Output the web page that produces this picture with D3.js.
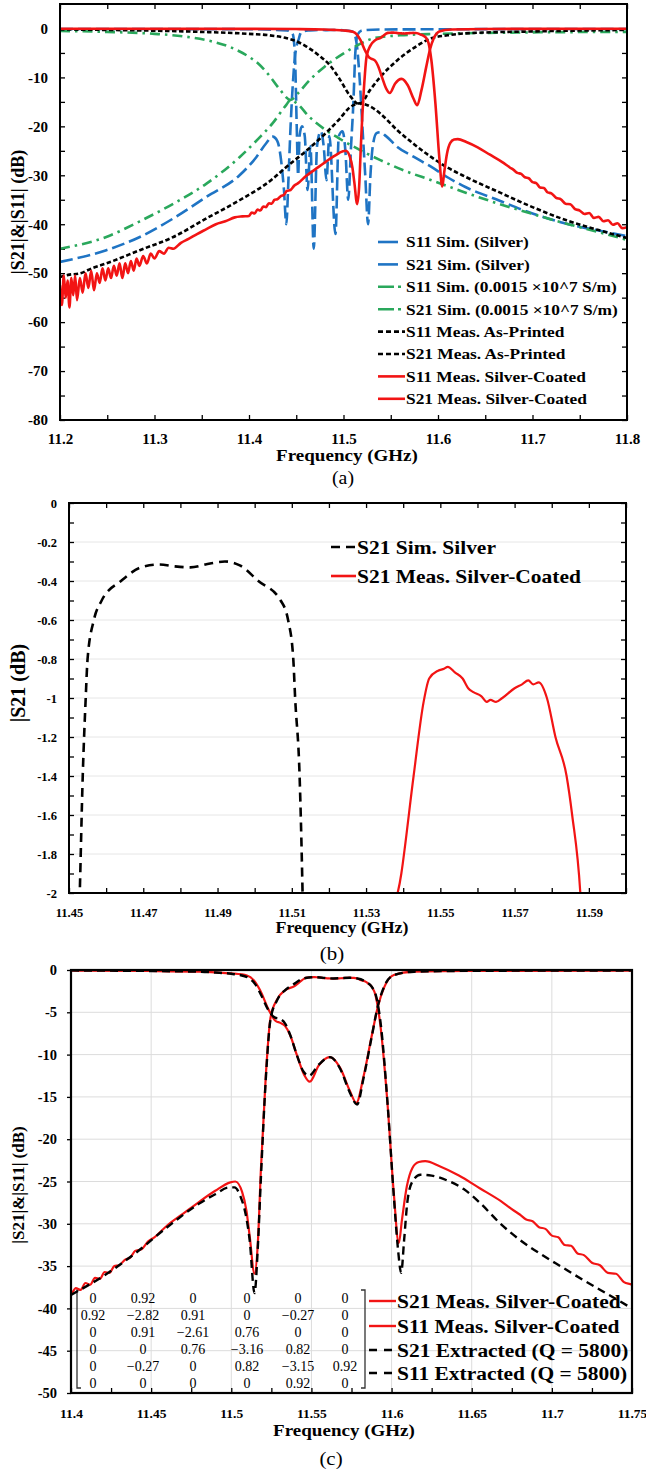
<!DOCTYPE html>
<html>
<head>
<meta charset="utf-8">
<script src="https://cdn.jsdelivr.net/npm/d3@7"></script>
<style>
body { margin: 0; background: #fff; }
svg text { font-family: "Liberation Serif", "Times New Roman", serif; fill: #000; }
</style>
</head>
<body>
<script>
// ---------- data (GHz, dB) ----------
// panel (a): simulated, silver
var simSilverS11 = [[11.2,-0.1],[11.4,-0.15],[11.44,-0.4],[11.446,-1],[11.4485,-5],[11.4505,-20],[11.452,-30],
  [11.4535,-22],[11.456,-20],[11.459,-22],[11.462,-33],[11.465,-24],[11.4685,-45],[11.472,-24],[11.476,-21],
  [11.479,-24],[11.482,-31],[11.485,-22],[11.4915,-42],[11.495,-22],[11.499,-21],[11.502,-25],[11.505,-35],
  [11.508,-24],[11.5105,-15],[11.5125,-5],[11.515,-1.2],[11.52,-0.4],[11.54,-0.2],[11.8,-0.1]];
var simSilverS21 = [[11.2,-47.7],[11.249,-45.3],[11.2845,-42.6],[11.32,-38.8],[11.355,-34.4],[11.39,-30],
  [11.4077,-26.3],[11.418,-23.5],[11.425,-22.1],[11.43,-23],[11.434,-27],[11.437,-33],[11.4395,-40],[11.4415,-32],
  [11.444,-20],[11.4465,-11],[11.4485,-6],[11.4505,-3.5],[11.4529,-2],[11.4537,-1.4],[11.4545,-1.0],[11.455,-0.8],
  [11.4567,-0.6],[11.4588,-0.5],[11.464,-0.4],[11.4694,-0.33],[11.4743,-0.315],[11.4785,-0.325],[11.4827,-0.33],
  [11.488,-0.31],[11.492,-0.3],[11.496,-0.32],[11.501,-0.4],[11.507,-0.5],[11.509,-0.6],[11.5104,-0.8],
  [11.5109,-1.0],[11.5121,-1.4],[11.5129,-2],[11.5145,-4],[11.517,-10],[11.52,-20],[11.523,-30],[11.526,-40],
  [11.5285,-30],[11.531,-24],[11.535,-21.4],[11.539,-21.2],[11.545,-22],[11.557,-24.2],[11.575,-26.3],
  [11.593,-28.3],[11.61,-30.4],[11.629,-32.4],[11.664,-35.1],[11.7,-37.8],[11.736,-39.9],[11.77,-41.3],[11.8,-42.4]];
// panel (a): simulated, 0.0015e7 S/m
var simLossyS11 = [[11.2,-0.5],[11.25,-0.7],[11.3,-1.1],[11.33,-1.6],[11.36,-2.6],[11.38,-3.8],[11.4,-5.8],
  [11.41,-7.2],[11.4218,-9.7],[11.432,-12.3],[11.444,-14.6],[11.452,-13.2],[11.464,-10.6],[11.48,-7.8],
  [11.4993,-5.2],[11.515,-3.4],[11.532,-2.0],[11.56,-1.4],[11.6,-1.1],[11.7,-0.8],[11.8,-0.7]];
var simLossyS21 = [[11.2,-45],[11.249,-42.6],[11.2845,-39.4],[11.32,-35.8],[11.355,-31.7],[11.39,-26.3],
  [11.41,-22.5],[11.4253,-19.3],[11.4395,-15.6],[11.444,-14.6],[11.45,-15.2],[11.464,-18.1],[11.48,-20.6],
  [11.4993,-22.9],[11.52,-25.1],[11.539,-26.9],[11.565,-29.1],[11.593,-31],[11.63,-33.6],[11.664,-35.8],
  [11.7,-37.9],[11.736,-39.9],[11.77,-41.6],[11.8,-43.2]];
// panel (a): measured, as printed
var printedS11 = [[11.2,-0.2],[11.3,-0.45],[11.35,-0.7],[11.4,-1.1],[11.4218,-1.4],[11.44,-2],[11.45,-2.6],
  [11.46,-3.6],[11.4746,-5.6],[11.486,-7.6],[11.4958,-10.3],[11.5063,-13.6],[11.517,-15.5],[11.528,-12.6],
  [11.539,-9.9],[11.557,-6.5],[11.575,-3.9],[11.593,-2.0],[11.61,-1.4],[11.6286,-1.0],[11.7,-0.6],[11.8,-0.3]];
var printedS21 = [[11.2,-50.8],[11.21,-50.3],[11.22,-50.1],[11.235,-48.9],[11.249,-48],[11.2845,-45.3],
  [11.32,-42.6],[11.355,-38.8],[11.39,-35.1],[11.4253,-30.7],[11.4395,-28.3],[11.4606,-25],[11.4746,-22.6],
  [11.4958,-18.5],[11.5063,-16.2],[11.517,-15.3],[11.528,-15.9],[11.539,-17.4],[11.557,-20.8],[11.575,-23.7],
  [11.593,-26.3],[11.61,-28.4],[11.629,-30.3],[11.664,-33.4],[11.7,-36.5],[11.736,-39.2],[11.77,-41.2],[11.8,-42.8]];
// panels (a)(b)(c): measured, silver coated
var coatedS11 = [[11.2,-0.05],[11.4,-0.08],[11.45,-0.12],[11.48,-0.2],[11.49,-0.28],[11.5,-0.4],[11.5098,-0.65],
  [11.514,-1.2],[11.518,-2.4],[11.5233,-4.7],[11.5275,-6.0],[11.5306,-6.25],[11.5335,-6.6],[11.5365,-7.6],
  [11.541,-10.1],[11.5455,-12.4],[11.549,-13.2],[11.5545,-11.3],[11.5615,-10.3],[11.568,-11.6],[11.574,-14.3],
  [11.578,-15.7],[11.5825,-12.6],[11.5875,-7.9],[11.5915,-4.3],[11.5955,-2.0],[11.6014,-0.6],[11.614,-0.2],
  [11.65,-0.1],[11.8,-0.05]];
var coatedS21 = [[11.200,-52.5],[11.202,-56.5],[11.204,-50.5],[11.206,-55],[11.208,-51.5],[11.210,-57],
  [11.212,-51],[11.214,-54.5],[11.216,-50.5],[11.218,-55.5],[11.221,-51],[11.224,-54],[11.227,-50],[11.230,-53],
  [11.233,-49.5],[11.236,-53.5],[11.239,-50],[11.242,-52],[11.245,-49],[11.248,-51.5],[11.251,-49],[11.254,-51],
  [11.257,-48.5],[11.260,-50.5],[11.263,-48],[11.266,-51],[11.269,-48],[11.272,-50],[11.275,-47.5],[11.278,-49.5],
  [11.281,-47],[11.284,-48.5],[11.288,-46.5],[11.292,-48],[11.296,-46],[11.300,-47],[11.305,-45.5],[11.310,-46],
  [11.315,-44.8],[11.320,-45],[11.328,-43.8],[11.336,-43],[11.345,-42],[11.355,-41],[11.365,-40],[11.375,-39.4],
  [11.385,-38.6],[11.393,-38.4],[11.40,-38.3],[11.403,-37.6],[11.406,-37.8],[11.409,-37.0],[11.412,-37.2],
  [11.415,-36.4],[11.418,-36.5],[11.421,-35.7],[11.424,-35.8],[11.427,-35.0],[11.43,-34.9],[11.434,-34.2],
  [11.437,-34.0],[11.44,-33.2],[11.444,-33.0],[11.448,-32.1],[11.452,-31.6],[11.46,-30.2],[11.47,-28.8],
  [11.48,-27.4],[11.49,-26.1],[11.4994,-25.1],[11.5025,-25.0],[11.5067,-26.2],[11.5095,-28.5],[11.5115,-31.5],
  [11.5145,-35.9],[11.5165,-32.5],[11.5185,-23.5],[11.5215,-12.6],[11.5245,-5.6],[11.5285,-3.5],[11.5335,-2.4],
  [11.5395,-1.9],[11.5428,-1.4],[11.5455,-1.02],[11.547,-0.9],[11.5494,-0.86],[11.551,-0.85],[11.552,-0.84],
  [11.554,-0.87],[11.556,-0.9],[11.5575,-0.95],[11.5589,-0.97],[11.561,-0.99],[11.5625,-1.02],[11.5635,-1.01],
  [11.565,-1.02],[11.5667,-1.0],[11.57,-0.95],[11.572,-0.93],[11.5737,-0.91],[11.575,-0.93],[11.5765,-0.92],
  [11.5787,-1.0],[11.581,-1.2],[11.584,-1.4],[11.5855,-1.6],[11.5877,-2.0],[11.59,-3.0],[11.593,-6.5],
  [11.5973,-15.4],[11.6014,-26.4],[11.6045,-32.3],[11.6065,-29.5],[11.6095,-25.6],[11.613,-23.4],[11.617,-22.7],
  [11.621,-22.6],[11.63,-23.2],[11.642,-24.3],[11.655,-25.8],[11.668,-27.3],[11.676,-28.4],[11.68,-28.9],
  [11.684,-29.5],[11.688,-29.7],[11.692,-30.4],[11.696,-30.6],[11.7,-31.4],[11.704,-31.6],[11.708,-32.5],
  [11.712,-32.6],[11.716,-33.5],[11.72,-33.7],[11.725,-34.6],[11.73,-34.9],[11.735,-35.8],[11.74,-35.9],
  [11.745,-36.9],[11.75,-37.2],[11.755,-37.9],[11.76,-37.7],[11.765,-38.7],[11.77,-38.5],[11.775,-39.4],
  [11.78,-39.2],[11.785,-40.1],[11.79,-39.8],[11.795,-40.8],[11.8,-40.6]];
// panel (c): extracted model, Q = 5800
var extractS11 = [[11.4,-0.05],[11.48,-0.2],[11.49,-0.3],[11.5,-0.45],[11.51,-0.85],[11.515,-1.7],[11.519,-3.1],
  [11.523,-4.7],[11.527,-5.6],[11.5305,-5.8],[11.5335,-6.3],[11.537,-7.8],[11.541,-10.1],[11.545,-12.0],
  [11.5485,-12.5],[11.5545,-11.2],[11.5615,-10.3],[11.568,-11.7],[11.574,-14.5],[11.5785,-15.9],[11.5825,-12.8],
  [11.5875,-8.0],[11.5915,-4.2],[11.5955,-1.9],[11.6015,-0.6],[11.614,-0.2],[11.65,-0.1],[11.75,-0.05]];
var extractS21 = [[11.4,-38.4],[11.42,-36.2],[11.44,-33.5],[11.46,-30.4],[11.48,-27.6],[11.49,-26.5],
  [11.4985,-25.7],[11.502,-25.7],[11.506,-26.9],[11.509,-28.9],[11.5115,-32],[11.5145,-38.2],[11.5165,-33],
  [11.5185,-24.5],[11.5215,-13],[11.5245,-5.8],[11.5285,-3.6],[11.5335,-2.4],[11.5388,-1.7],[11.545,-1.0],
  [11.552,-0.85],[11.5635,-1.0],[11.5737,-0.92],[11.5787,-1.0],[11.584,-1.4],[11.5877,-2.0],[11.5905,-3.2],
  [11.5935,-6.8],[11.5975,-15.8],[11.6015,-27],[11.604,-33],[11.606,-35.8],[11.6078,-32],[11.6098,-27.5],
  [11.613,-25],[11.618,-24.2],[11.625,-24.3],[11.635,-24.9],[11.645,-25.9],[11.655,-27.5],[11.668,-30.0],
  [11.68,-31.9],[11.694,-33.7],[11.707,-35.2],[11.72,-36.7],[11.73,-37.8],[11.741,-39],[11.75,-40]];
// coupling matrix shown in panel (c)
var couplingM = [
  ["0","0.92","0","0","0","0"],
  ["0.92","\u22122.82","0.91","0","\u22120.27","0"],
  ["0","0.91","\u22122.61","0.76","0","0"],
  ["0","0","0.76","\u22123.16","0.82","0"],
  ["0","\u22120.27","0","0.82","\u22123.15","0.92"],
  ["0","0","0","0","0.92","0"]];

var legendA = ["S11 Sim. (Silver)","S21 Sim. (Silver)","S11 Sim. (0.0015 \u00d710^7 S/m)",
  "S21 Sim. (0.0015 \u00d710^7 S/m)","S11 Meas. As-Printed","S21 Meas. As-Printed",
  "S11 Meas. Silver-Coated","S21 Meas. Silver-Coated"];
var legendB = ["S21 Sim. Silver","S21 Meas. Silver-Coated"];
var legendC = ["S21 Meas. Silver-Coated","S11 Meas. Silver-Coated","S21 Extracted (Q = 5800)","S11 Extracted (Q = 5800)"];

var xTicksA = [11.2,11.3,11.4,11.5,11.6,11.7,11.8];
var yTicksA = [0,-10,-20,-30,-40,-50,-60,-70,-80];
var xTicksB = [11.45,11.47,11.49,11.51,11.53,11.55,11.57,11.59];
var yTicksB = [0,-0.2,-0.4,-0.6,-0.8,-1,-1.2,-1.4,-1.6,-1.8,-2];
var xTicksC = [11.4,11.45,11.5,11.55,11.6,11.65,11.7,11.75];
var yTicksC = [0,-5,-10,-15,-20,-25,-30,-35,-40,-45,-50];

// ---------- drawing ----------
var BLUE = "#1f74c4", GREEN = "#2aa85c", RED = "#f21414";

var svg = d3.select("body").append("svg").attr("width", 646).attr("height", 1470);

function txt(x, y, s, size, o) {
    o = o || {};
    return svg.append("text")
        .attr("transform", "translate(" + x + "," + y + ")" + (o.rot ? " rotate(" + o.rot + ")" : "") + " scale(" + (o.sx || 1) + ",1)")
        .attr("text-anchor", o.anchor || "middle")
        .attr("dy", "0.35em")
        .attr("font-size", size)
        .attr("font-weight", o.weight || "bold")
        .text(s);
}

function makeClip(id, x, y) {
    svg.append("clipPath").attr("id", id).append("rect")
        .attr("x", x.range()[0]).attr("y", y.range()[1])
        .attr("width", x.range()[1] - x.range()[0])
        .attr("height", y.range()[0] - y.range()[1]);
}

function frame(x, y, w) {
    svg.append("rect")
        .attr("x", x.range()[0]).attr("y", y.range()[1])
        .attr("width", x.range()[1] - x.range()[0])
        .attr("height", y.range()[0] - y.range()[1])
        .attr("fill", "none").attr("stroke", "#000").attr("stroke-width", w);
}

function curve(data, x, y, clipId, color, width, dash) {
    svg.append("path").datum(data)
        .attr("clip-path", "url(#" + clipId + ")")
        .attr("fill", "none")
        .attr("stroke", color)
        .attr("stroke-width", width)
        .attr("stroke-dasharray", dash || null)
        .attr("stroke-linejoin", "round")
        .attr("d", d3.line().x(function(d) { return x(d[0]); }).y(function(d) { return y(d[1]); }).curve(d3.curveMonotoneX));
}

function styleAxis(ax, size) {
    ax.select(".domain").remove();
    ax.attr("font-family", null).attr("font-size", size).attr("font-weight", "bold");
    ax.selectAll(".tick line").attr("stroke", "#000").attr("stroke-width", 1.3);
    ax.selectAll(".tick text").attr("fill", "#000");
}

function isIn(list, v) {
    return list.some(function(t) { return Math.abs(t - v) < 1e-6; });
}

function legendRow(x1, x2, y, color, width, dash, label, size, sx) {
    svg.append("line").attr("x1", x1).attr("x2", x2).attr("y1", y).attr("y2", y)
        .attr("stroke", color).attr("stroke-width", width).attr("stroke-dasharray", dash || null);
    txt(x2 + 1, y, label, size, {anchor: "start", sx: sx});
}

// ===== panel (a) =====
var xA = d3.scaleLinear().domain([11.2, 11.8]).range([60, 627]);
var yA = d3.scaleLinear().domain([-80, 5]).range([420, 4]);
makeClip("clipA", xA, yA);

var minorXA = d3.range(13).map(function(i) { return +(11.2 + i * 0.05).toFixed(2); });
var minorYA = d3.range(-80, 1, 5);

var axA = svg.append("g").attr("transform", "translate(0,420)")
    .call(d3.axisBottom(xA).tickValues(minorXA).tickSize(-5).tickPadding(13)
        .tickFormat(function(d) { return isIn(xTicksA, d) ? d.toFixed(1) : ""; }));
styleAxis(axA, 15);
var axAt = svg.append("g").attr("transform", "translate(0,4)")
    .call(d3.axisTop(xA).tickValues(minorXA).tickSize(-5).tickFormat(""));
styleAxis(axAt, 15);
var ayA = svg.append("g").attr("transform", "translate(60,0)")
    .call(d3.axisLeft(yA).tickValues(minorYA).tickSize(-5).tickPadding(12)
        .tickFormat(function(d) { return isIn(yTicksA, d) ? String(d) : ""; }));
styleAxis(ayA, 15);
var ayAr = svg.append("g").attr("transform", "translate(627,0)")
    .call(d3.axisRight(yA).tickValues(minorYA).tickSize(-5).tickFormat(""));
styleAxis(ayAr, 15);

curve(simSilverS11, xA, yA, "clipA", BLUE, 2.6, "13,5");
curve(simSilverS21, xA, yA, "clipA", BLUE, 2.6, "13,5");
curve(simLossyS11, xA, yA, "clipA", GREEN, 2.6, "10,5,2.5,5");
curve(simLossyS21, xA, yA, "clipA", GREEN, 2.6, "10,5,2.5,5");
curve(printedS11, xA, yA, "clipA", "#000", 2.6, "4.5,2.5");
curve(printedS21, xA, yA, "clipA", "#000", 2.6, "4.5,2.5");
curve(coatedS11, xA, yA, "clipA", RED, 2.6);
curve(coatedS21, xA, yA, "clipA", RED, 2.6);
frame(xA, yA, 2);

var legStyleA = [[BLUE, "20,30"], [BLUE, "20,30"], [GREEN, "16,4,3,30"], [GREEN, "16,4,3,30"],
    ["#000", "5,3"], ["#000", "5,3"], [RED, null], [RED, null]];
legendA.forEach(function(lab, i) {
    legendRow(378, 405, 242 + i * 22.4, legStyleA[i][0], 2.6, legStyleA[i][1], lab, 15.5, 1.12);
});

txt(347, 455, "Frequency (GHz)", 17, {sx: 1.12});
txt(343, 478, "(a)", 18, {sx: 1.1, weight: "normal"});
txt(18, 212, "|S21|&|S11| (dB)", 18, {rot: -90});

// ===== panel (b) =====
var xB = d3.scaleLinear().domain([11.45, 11.6]).range([69, 626]);
var yB = d3.scaleLinear().domain([-2, 0]).range([893, 503]);
makeClip("clipB", xB, yB);

svg.append("g").selectAll("line").data(yTicksB).enter().append("line")
    .attr("x1", 69).attr("x2", 626)
    .attr("y1", function(d) { return yB(d); }).attr("y2", function(d) { return yB(d); })
    .attr("stroke", "#e6e6e6").attr("stroke-width", 1);

var minorXB = d3.range(16).map(function(i) { return +(11.45 + i * 0.01).toFixed(2); });
var minorYB = d3.range(21).map(function(i) { return +(-2 + i * 0.1).toFixed(1); });

var axB = svg.append("g").attr("transform", "translate(0,893)")
    .call(d3.axisBottom(xB).tickValues(minorXB).tickSize(-5).tickPadding(15)
        .tickFormat(function(d) { return isIn(xTicksB, d) ? d.toFixed(2) : ""; }));
styleAxis(axB, 12.5);
var axBt = svg.append("g").attr("transform", "translate(0,503)")
    .call(d3.axisTop(xB).tickValues(minorXB).tickSize(-5).tickFormat(""));
styleAxis(axBt, 12);
var ayB = svg.append("g").attr("transform", "translate(69,0)")
    .call(d3.axisLeft(yB).tickValues(minorYB).tickSize(-5).tickPadding(12)
        .tickFormat(function(d) { return isIn(yTicksB, d) ? String(d) : ""; }));
styleAxis(ayB, 12.5);
var ayBr = svg.append("g").attr("transform", "translate(626,0)")
    .call(d3.axisRight(yB).tickValues(minorYB).tickSize(-5).tickFormat(""));
styleAxis(ayBr, 12);

curve(simSilverS21, xB, yB, "clipB", "#000", 2.6, "9,6");
curve(coatedS21, xB, yB, "clipB", RED, 2.2);
frame(xB, yB, 2);

legendRow(331, 356, 547, "#000", 2.6, "9,6", legendB[0], 19, 1.13);
legendRow(331, 356, 576, RED, 2.6, null, legendB[1], 19, 1.13);

txt(342, 927, "Frequency (GHz)", 17, {sx: 1.05});
txt(332, 953, "(b)", 19, {sx: 1.1, weight: "normal"});
txt(18, 683, "|S21 (dB)", 20, {rot: -90});

// ===== panel (c) =====
var xC = d3.scaleLinear().domain([11.4, 11.75]).range([71, 632]);
var yC = d3.scaleLinear().domain([-50, 0]).range([1393, 970]);
makeClip("clipC", xC, yC);

var gridC = svg.append("g").attr("stroke", "#dcdcdc").attr("stroke-width", 1);
gridC.selectAll(".gv").data(xTicksC).enter().append("line")
    .attr("x1", function(d) { return xC(d); }).attr("x2", function(d) { return xC(d); })
    .attr("y1", 970).attr("y2", 1393);
gridC.selectAll(".gh").data(yTicksC).enter().append("line")
    .attr("x1", 71).attr("x2", 632)
    .attr("y1", function(d) { return yC(d); }).attr("y2", function(d) { return yC(d); });

var minorXC = d3.range(15).map(function(i) { return +(11.4 + i * 0.025).toFixed(3); });

var axC = svg.append("g").attr("transform", "translate(0,1393)")
    .call(d3.axisBottom(xC).tickValues(minorXC).tickSize(-5).tickPadding(15)
        .tickFormat(function(d) { return isIn(xTicksC, d) ? String(+d.toFixed(2)) : ""; }));
styleAxis(axC, 13.5);
var ayC = svg.append("g").attr("transform", "translate(71,0)")
    .call(d3.axisLeft(yC).tickValues(yTicksC).tickSize(4).tickPadding(10)
        .tickFormat(function(d) { return String(d); }));
styleAxis(ayC, 14.5);

// matrix overlay
var colX = [93, 143, 193, 247, 298, 345];
couplingM.forEach(function(row, r) {
    row.forEach(function(v, c) {
        txt(colX[c], 1298 + r * 17, v, 14, {weight: "normal"});
    });
});
svg.append("path").attr("d", "M81,1290H77V1388H81").attr("fill", "none").attr("stroke", "#333").attr("stroke-width", 1.3);
svg.append("path").attr("d", "M361,1290H365V1388H361").attr("fill", "none").attr("stroke", "#333").attr("stroke-width", 1.3);

curve(coatedS21, xC, yC, "clipC", RED, 2.2);
curve(coatedS11, xC, yC, "clipC", RED, 2.2);
curve(extractS21, xC, yC, "clipC", "#000", 2.4, "8,5");
curve(extractS11, xC, yC, "clipC", "#000", 2.4, "8,5");
frame(xC, yC, 2.2);

var legStyleC = [[RED, null], [RED, null], ["#000", "8,7"], ["#000", "8,7"]];
var legYC = [1301, 1326, 1350, 1373];
legendC.forEach(function(lab, i) {
    legendRow(369, 396, legYC[i], legStyleC[i][0], 2.4, legStyleC[i][1], lab, 19.5, 1.1);
});

txt(344, 1430, "Frequency (GHz)", 17, {sx: 1.12});
txt(331, 1458, "(c)", 19, {sx: 1.1, weight: "normal"});
txt(18, 1185, "|S21|&|S11| (dB)", 17, {rot: -90});
</script>
</body>
</html>
